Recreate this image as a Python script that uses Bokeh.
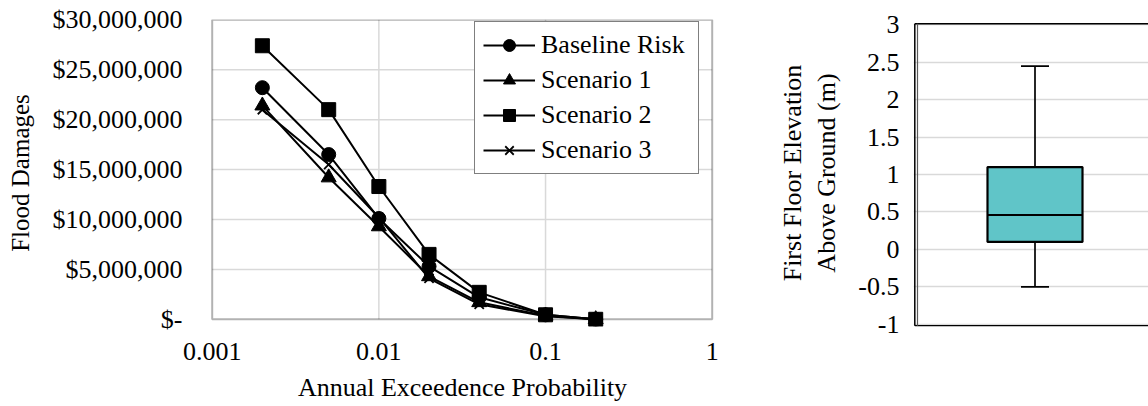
import math
from bokeh.plotting import figure
from bokeh.layouts import row
from bokeh.models import Range1d, FixedTicker, Legend, LegendItem, BoxAnnotation
from bokeh.embed import file_html
from bokeh.resources import INLINE

# ---------------- data ----------------
aep = [0.002, 0.005, 0.01, 0.02, 0.04, 0.1, 0.2]
baseline_risk = [23.2e6, 16.5e6, 10.1e6, 5.3e6, 2.2e6, 0.45e6, 0.0]
scenario_1 = [21.4e6, 14.2e6, 9.3e6, 4.3e6, 1.7e6, 0.35e6, 0.0]
scenario_2 = [27.4e6, 21.0e6, 13.3e6, 6.5e6, 2.7e6, 0.45e6, 0.0]
scenario_3 = [21.0e6, 15.5e6, 10.2e6, 4.1e6, 1.5e6, 0.3e6, 0.0]
series_names = ["Baseline Risk", "Scenario 1", "Scenario 2", "Scenario 3"]
series_markers = ["circle", "triangle", "square", "x"]

x_ticks = [0.001, 0.01, 0.1, 1]
x_tick_labels = ["0.001", "0.01", "0.1", "1"]
y_ticks = [0, 5000000, 10000000, 15000000, 20000000, 25000000, 30000000]
y_tick_labels = ["$-", "$5,000,000", "$10,000,000", "$15,000,000",
                 "$20,000,000", "$25,000,000", "$30,000,000"]

# first floor elevation box plot statistics (m)
ffe_lower = -0.5
ffe_q1 = 0.1
ffe_median = 0.46
ffe_q3 = 1.1
ffe_upper = 2.45
ffe_ticks = [-1, -0.5, 0, 0.5, 1, 1.5, 2, 2.5, 3]
ffe_tick_labels = ["-1", "-0.5", "0", "0.5", "1", "1.5", "2", "2.5", "3"]

FONT = "'Liberation Serif', 'Times New Roman', serif"
GRID = "#D9D9D9"

# ---------------- shared frame geometry (px) ----------------
H = 404
FRAME_TOP = 19
FRAME_BOTTOM = 330

# ---------------- left chart ----------------
L_W = 760
L_FRAME_LEFT = 210
L_FRAME_RIGHT = 714
# plot-area (data) box inside the frame, in px
L_AREA_LEFT, L_AREA_RIGHT = 211.7, 711.7
L_AREA_TOP, L_AREA_BOTTOM = 19.3, 322.7

x_lo, x_hi = x_ticks[0], x_ticks[-1]
dec_px = (L_AREA_RIGHT - L_AREA_LEFT) / (math.log10(x_hi) - math.log10(x_lo))
x_start = 10 ** (math.log10(x_lo) - (L_AREA_LEFT - L_FRAME_LEFT) / dec_px)
x_end = 10 ** (math.log10(x_hi) + (L_FRAME_RIGHT - L_AREA_RIGHT) / dec_px)
y_lo, y_hi = y_ticks[0], y_ticks[-1]
ypx = (L_AREA_BOTTOM - L_AREA_TOP) / (y_hi - y_lo)
y_start = y_lo - (FRAME_BOTTOM - L_AREA_BOTTOM) / ypx
y_end = y_hi + (L_AREA_TOP - FRAME_TOP) / ypx

p1 = figure(width=L_W, height=H, x_axis_type="log",
            x_range=Range1d(x_start, x_end), y_range=Range1d(y_start, y_end),
            output_backend="svg", toolbar_location=None,
            min_border_left=L_FRAME_LEFT, min_border_right=L_W - L_FRAME_RIGHT,
            min_border_top=FRAME_TOP, min_border_bottom=H - FRAME_BOTTOM)
p1.outline_line_color = None
p1.xgrid.grid_line_color = None
p1.ygrid.grid_line_color = None

p1.xaxis.ticker = FixedTicker(ticks=x_ticks)
p1.xaxis.major_label_overrides = dict(zip(x_ticks, x_tick_labels))
p1.yaxis.ticker = FixedTicker(ticks=y_ticks)
p1.yaxis.major_label_overrides = dict(zip(y_ticks, y_tick_labels))
for ax in (p1.xaxis[0], p1.yaxis[0]):
    ax.axis_line_color = None
    ax.major_tick_line_color = None
    ax.minor_tick_line_color = None
    ax.major_tick_out = 0
    ax.major_tick_in = 0
    ax.major_label_text_font = FONT
    ax.major_label_text_font_size = "26px"
    ax.major_label_text_color = "black"
    ax.axis_label_text_font = FONT
    ax.axis_label_text_font_style = "normal"
    ax.axis_label_text_color = "black"
p1.xaxis.axis_label = "Annual Exceedence Probability"
p1.xaxis.axis_label_text_font_size = "26px"
p1.xaxis.major_label_standoff = 16
p1.xaxis.axis_label_standoff = 10
p1.yaxis.axis_label = "Flood Damages"
p1.yaxis.axis_label_text_font_size = "25px"
p1.yaxis.major_label_standoff = 28
p1.yaxis.axis_label_standoff = 16

# grid lines limited to the plot area
inner_x = x_ticks[1:-1]
p1.segment(x0=inner_x, y0=[y_lo] * len(inner_x), x1=inner_x,
           y1=[y_hi] * len(inner_x), line_color=GRID, line_width=1.5)
inner_y = y_ticks[1:-1]
p1.segment(x0=[x_lo] * len(inner_y), y0=inner_y, x1=[x_hi] * len(inner_y),
           y1=inner_y, line_color=GRID, line_width=1.5)

series_values = [baseline_risk, scenario_1, scenario_2, scenario_3]
marker_sizes = {"circle": 14, "triangle": 15, "square": 14, "x": 13}
items = []
for name, vals, mk in zip(series_names, series_values, series_markers):
    lr = p1.line(aep, vals, line_color="black", line_width=2)
    if mk == "x":
        sr = p1.scatter(aep, vals, marker=mk, size=marker_sizes[mk],
                        line_color="black", line_width=1.8)
    else:
        sr = p1.scatter(aep, vals, marker=mk, size=marker_sizes[mk],
                        fill_color="black", line_color="black", line_width=1)
    items.append(LegendItem(label=name, renderers=[lr, sr]))

p1.add_layout(BoxAnnotation(left=x_lo, right=x_hi, bottom=y_lo, top=y_hi,
                            fill_color=None, line_color="black", line_width=2))

legend = Legend(items=items, location=(264, 152), margin=0, padding=8,
                spacing=5, glyph_width=52, glyph_height=30,
                label_height=30, label_width=149, label_standoff=6,
                label_text_font=FONT, label_text_font_size="26px",
                label_text_color="black",
                border_line_color="black", border_line_width=1.5,
                background_fill_color="white", background_fill_alpha=1)
p1.add_layout(legend)

# ---------------- right chart ----------------
R_W = 388
R_FRAME_LEFT = 153          # frame starts at page x = 913
R_FRAME_W = R_W - R_FRAME_LEFT
XPX = 240.0                 # px per category unit
BOX_CENTER_PX = 121.5       # box centre from frame left
rx_start = -BOX_CENTER_PX / XPX
rx_end = (R_FRAME_W - BOX_CENTER_PX) / XPX

R_AREA_TOP, R_AREA_BOTTOM = 24.5, 327.7   # px of 3 and -1
f_lo, f_hi = ffe_ticks[0], ffe_ticks[-1]
fpx = (R_AREA_BOTTOM - R_AREA_TOP) / (f_hi - f_lo)
ry_start = f_lo - (FRAME_BOTTOM - R_AREA_BOTTOM) / fpx
ry_end = f_hi + (R_AREA_TOP - FRAME_TOP) / fpx

p2 = figure(width=R_W, height=H,
            x_range=Range1d(rx_start, rx_end), y_range=Range1d(ry_start, ry_end),
            output_backend="svg", toolbar_location=None, x_axis_location=None,
            min_border_left=R_FRAME_LEFT, min_border_right=0,
            min_border_top=FRAME_TOP, min_border_bottom=H - FRAME_BOTTOM)
p2.outline_line_color = None
p2.xgrid.grid_line_color = None
p2.ygrid.ticker = FixedTicker(ticks=ffe_ticks)
p2.ygrid.grid_line_color = GRID
p2.ygrid.grid_line_width = 1.5

ya = p2.yaxis[0]
ya.ticker = FixedTicker(ticks=ffe_ticks)
ya.major_label_overrides = dict(zip(ffe_ticks, ffe_tick_labels))
ya.axis_line_color = None
ya.major_tick_line_color = None
ya.minor_tick_line_color = None
ya.major_tick_out = 0
ya.major_tick_in = 0
ya.major_label_standoff = 14
ya.major_label_text_font = FONT
ya.major_label_text_font_size = "26px"
ya.major_label_text_color = "black"
ya.axis_label = "First Floor Elevation\nAbove Ground (m)"
ya.axis_label_text_font = FONT
ya.axis_label_text_font_size = "26px"
ya.axis_label_text_font_style = "normal"
ya.axis_label_text_color = "black"
ya.axis_label_standoff = 14

# chart border (left, top, bottom; right side runs past the page edge)
b_left = rx_start + 1.3 / XPX
b_inner = rx_start + 4.0 / XPX
b_top = f_hi + (R_AREA_TOP - 23.3) / fpx
b_bottom = f_lo - (329.3 - R_AREA_BOTTOM) / fpx
b_far = rx_end + 1
p2.segment(x0=[b_left, b_left], y0=[b_top, b_bottom], x1=[b_far, b_far],
           y1=[b_top, b_bottom], line_color="black", line_width=1.5)
p2.segment(x0=[b_left], y0=[b_bottom], x1=[b_left], y1=[b_top],
           line_color="black", line_width=1.5)
p2.segment(x0=[b_inner], y0=[b_bottom], x1=[b_inner], y1=[b_top],
           line_color="#595959", line_width=1.2)

box_x = 0
box_w = 95 / XPX
cap_w = 28 / XPX
p2.segment(x0=[box_x, box_x], y0=[ffe_q3, ffe_q1], x1=[box_x, box_x],
           y1=[ffe_upper, ffe_lower], line_color="black", line_width=1.7)
p2.segment(x0=[box_x - cap_w / 2] * 2, y0=[ffe_upper, ffe_lower],
           x1=[box_x + cap_w / 2] * 2, y1=[ffe_upper, ffe_lower],
           line_color="black", line_width=1.7)
p2.vbar(x=[box_x], bottom=[ffe_q1], top=[ffe_q3], width=box_w,
        fill_color="#60C5C8", line_color="black", line_width=2.2)
p2.segment(x0=[box_x - box_w / 2], y0=[ffe_median], x1=[box_x + box_w / 2],
           y1=[ffe_median], line_color="black", line_width=2.2)

layout = row(p1, p2)
open("out.html", "w").write(file_html(layout, INLINE))
